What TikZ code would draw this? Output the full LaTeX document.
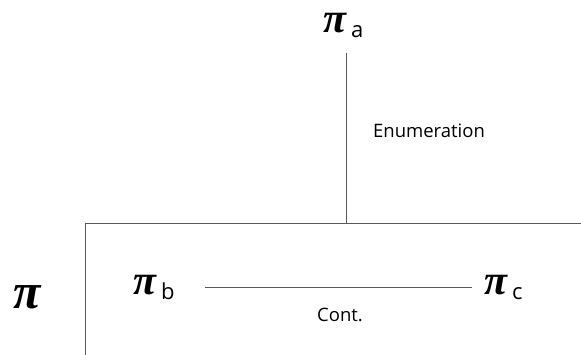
\documentclass[tikz,border=0pt]{standalone}
\usepackage{graphicx}
\usepackage{fontspec}
\setmainfont{Open Sans}
\newfontfamily\pifont{Liberation Serif}
\newcommand{\pibig}[1][42]{{\pifont\bfseries\itshape\fontsize{#1}{#1}\selectfont π}}
\newcommand{\pisub}[1]{\pibig\hspace{5pt}\raisebox{-5pt}{\fontsize{22}{22}\selectfont #1}}
\tikzset{
  lbl/.style={font=\fontsize{18.5}{18.5}\selectfont, inner sep=0pt},
  pinode/.style={inner sep=0pt, anchor=base west},
  ln/.style={draw=black!65, line width=0.8pt}
}
\begin{document}
\begin{tikzpicture}[x=1pt,y=1pt]
\useasboundingbox (0,0) rectangle (581,355);
\node[pinode] (pia) at (323,322) {\pisub{a}};
\node[pinode] (pi) at (13,46) {\pibig[50]};
\node[pinode] (pib) at (133,60) {\pisub{b}};
\node[pinode] (pic) at (484,60) {\pisub{c}};
\node[lbl] (enum) at (429,224) {Enumeration};
\node[lbl] (cont) at (340,40) {Cont.};
\coordinate (top) at (346,302);
\coordinate (join) at (346,132);
\coordinate (tr) at (582,132);
\coordinate (tl) at (85,132);
\coordinate (bl) at (85,-1);
\draw[ln] (top) -- (join);
\draw[ln] (tr) -- (tl) -- (bl);
\draw[ln, line width=0.6pt] (205,68) coordinate (l1) -- (472,68) coordinate (l2);
\end{tikzpicture}
\end{document}
